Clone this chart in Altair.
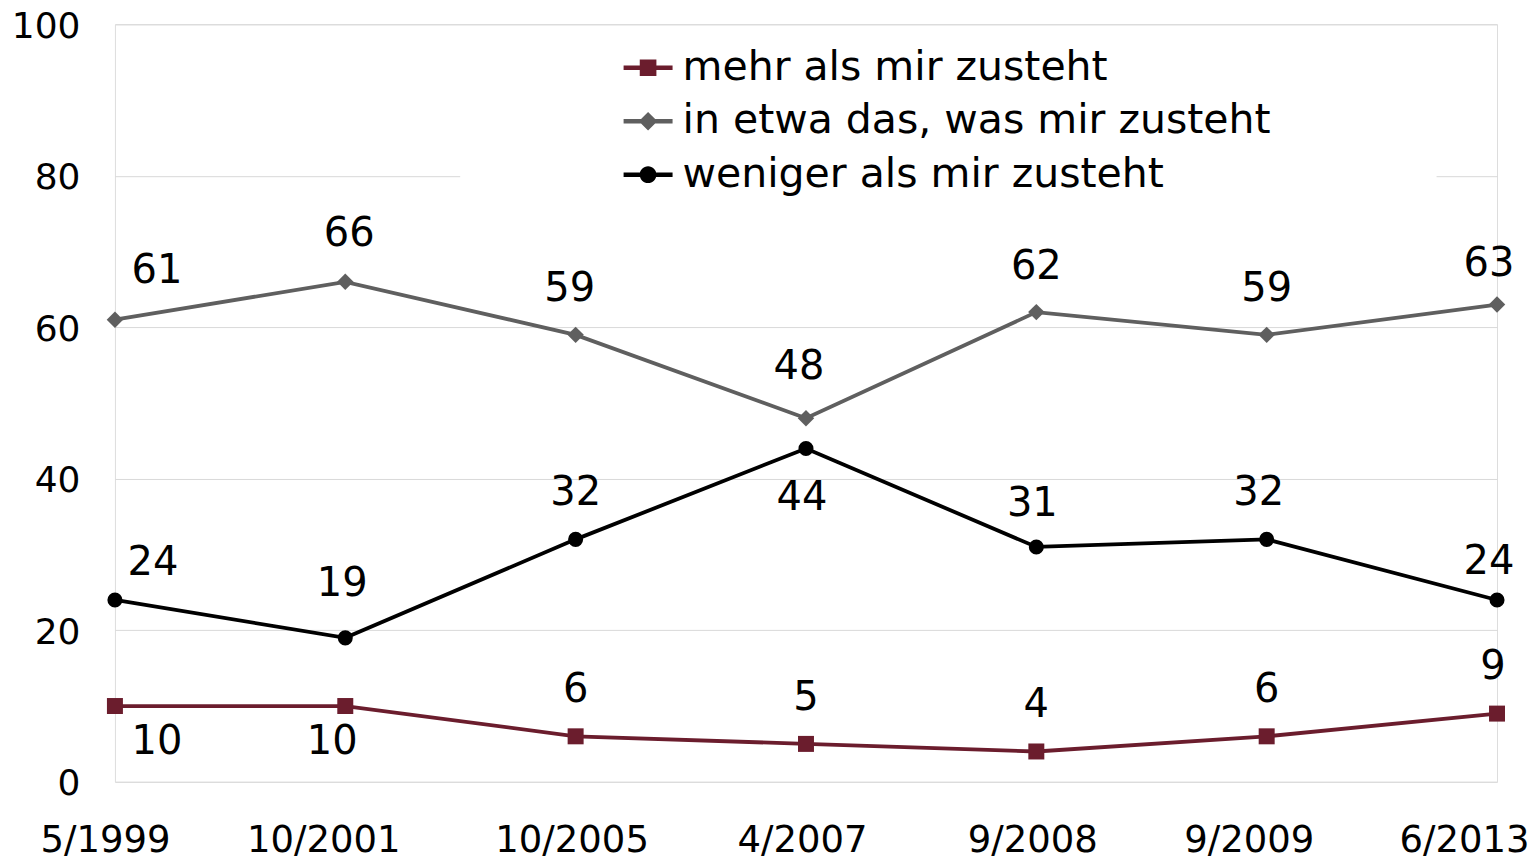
import altair as alt
import pandas as pd

# ---- data ----
dates = ["5/1999", "10/2001", "10/2005", "4/2007", "9/2008", "9/2009", "6/2013"]
S_MEHR = "mehr als mir zusteht"
S_ETWA = "in etwa das, was mir zusteht"
S_WENIGER = "weniger als mir zusteht"
series_names = [S_MEHR, S_ETWA, S_WENIGER]
mehr = [10, 10, 6, 5, 4, 6, 9]
etwa = [61, 66, 59, 48, 62, 59, 63]
weniger = [24, 19, 32, 44, 31, 32, 24]
y_ticks = [0, 20, 40, 60, 80, 100]

values = {S_MEHR: mehr, S_ETWA: etwa, S_WENIGER: weniger}
rows = []
for s in series_names:
    for d, v in zip(dates, values[s]):
        rows.append({"date": d, "series": s, "value": v})
df = pd.DataFrame(rows)

# ---- styles ----
FONT = "DejaVu Sans"
colors = {S_MEHR: "#6B1D2D", S_ETWA: "#5F5F5F", S_WENIGER: "#000000"}
shapes = {S_MEHR: "square", S_ETWA: "diamond", S_WENIGER: "circle"}
sizes = {S_MEHR: 256, S_ETWA: 270, S_WENIGER: 227}
legend_paths = [
    "M-1,-0.09H1V0.09H-1Z M-0.34,-0.34H0.34V0.34H-0.34Z",
    "M-1,-0.09H1V0.09H-1Z M0,-0.38L0.38,0L0,0.38L-0.38,0Z",
    "M-1,-0.09H1V0.09H-1Z M0.34,0A0.34,0.34 0 1,1 -0.34,0A0.34,0.34 0 1,1 0.34,0Z",
]
# label offsets (dx, dy) relative to the data point; default above
default_off = (0, -46)
label_off = {
    (S_ETWA, 0): (42, -49), (S_ETWA, 1): (4, -48), (S_ETWA, 3): (-7, -51),
    (S_ETWA, 2): (-6, -46), (S_ETWA, 4): (0, -45), (S_ETWA, 6): (-8, -41),
    (S_WENIGER, 0): (38, -37), (S_WENIGER, 1): (-3, -54), (S_WENIGER, 3): (-4, 50),
    (S_WENIGER, 4): (-4, -43), (S_WENIGER, 5): (-8, -46), (S_WENIGER, 6): (-8, -38),
    (S_MEHR, 0): (42, 36), (S_MEHR, 1): (-13, 36), (S_MEHR, 6): (-4, -47),
}

x_enc = alt.X(
    "date:N", sort=dates,
    scale=alt.Scale(type="point", padding=0),
    axis=alt.Axis(
        title=None, domain=False, ticks=False, labelAngle=0,
        labelFont=FONT, labelFontSize=37, labelColor="black", labelPadding=41,
        gridColor="#d9d9d9", gridWidth=1,
        gridDash={"condition": {"test": "datum.value != '5/1999' && datum.value != '6/2013'",
                                "value": [585, 162, 100]}, "value": []},
        labelAlign={"condition": {"test": "datum.value == '6/2013'", "value": "right"}, "value": "center"},
        labelOffset={"condition": [
            {"test": "datum.value == '6/2013'", "value": 32},
            {"test": "datum.value == '10/2001'", "value": -22},
            {"test": "datum.value == '9/2009'", "value": -18},
            {"test": "datum.value == '5/1999'", "value": -10},
        ], "value": -4},
    ),
)
y_enc = alt.Y(
    "value:Q",
    scale=alt.Scale(domain=[0, 100], nice=False),
    axis=alt.Axis(
        title=None, domain=False, ticks=False, values=y_ticks,
        labelFont=FONT, labelFontSize=36, labelColor="black", labelPadding=35, labelOffset=2,
        gridColor="#d9d9d9", gridWidth=1,
        gridDash={"condition": {"test": "datum.value == 80", "value": [345, 977, 200]}, "value": []},
    ),
)

base = alt.Chart(df)
layers = []
for s in [S_ETWA, S_WENIGER, S_MEHR]:
    f = alt.datum.series == s
    layers.append(base.transform_filter(f).mark_line(color=colors[s], strokeWidth=3.8).encode(x=x_enc, y=y_enc))
    layers.append(base.transform_filter(f).mark_point(shape=shapes[s], filled=True, opacity=1,
                                                     color=colors[s], size=sizes[s]).encode(x=x_enc, y=y_enc))

for s in series_names:
    for i, d in enumerate(dates):
        dx, dy = label_off.get((s, i), default_off)
        layers.append(
            base.transform_filter((alt.datum.series == s) & (alt.datum.date == d))
            .mark_text(font=FONT, fontSize=40, color="black", baseline="middle", align="center", dx=dx, dy=dy)
            .encode(x=x_enc, y=y_enc, text="value:Q")
        )

legend_cfg = dict(title=None, orient="none", legendX=509, legendY=19, direction="vertical",
                  symbolSize=2401, symbolStrokeWidth=0, labelFont=FONT, labelFontSize=41,
                  labelColor="black", labelLimit=900, labelOffset=10, rowPadding=8.5,
                  padding=0, fillColor="white")
legend_layer = base.transform_filter("false").mark_point(filled=True, opacity=1).encode(
    x=x_enc, y=y_enc,
    color=alt.Color("series:N", scale=alt.Scale(domain=series_names, range=[colors[s] for s in series_names]),
                    legend=alt.Legend(**legend_cfg)),
    shape=alt.Shape("series:N", scale=alt.Scale(domain=series_names, range=legend_paths),
                    legend=alt.Legend(**legend_cfg)),
)
layers.append(legend_layer)

chart = alt.layer(*layers).properties(
    width=1383, height=758,
    padding={"left": 107, "top": 16, "right": 35, "bottom": 90},
    autosize=alt.AutoSizeParams(type="none"),
).configure_view(stroke=None).configure(background="white")

chart.save("out.html", embed_options={"renderer": "svg", "actions": False})
